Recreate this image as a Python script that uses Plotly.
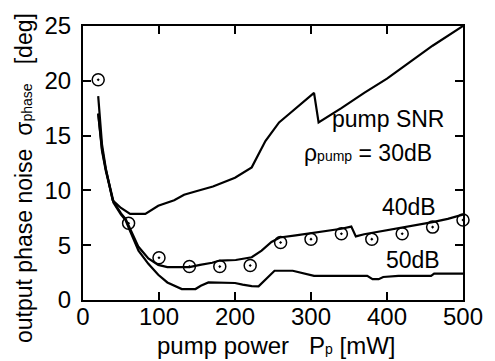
import plotly.graph_objects as go

# measured points (circle-dot markers)
pts_x = [20, 60, 100, 140, 180, 220, 260, 300, 340, 380, 420, 460, 500]
pts_y = [20.1, 7.0, 3.85, 3.05, 3.05, 3.15, 5.25, 5.55, 6.05, 5.55, 6.05, 6.65, 7.3]

# pump SNR 30 dB curve
x30 = [20, 22, 25, 30, 35, 39, 50, 62, 82, 90, 99, 120, 133, 150, 171, 200, 215, 222, 240, 258, 270, 282, 295, 304, 310, 340, 370, 400, 430, 460, 500]
y30 = [18.6, 16.8, 14.2, 12.0, 10.4, 9.1, 8.4, 7.85, 7.85, 8.2, 8.6, 9.1, 9.6, 9.95, 10.35, 11.15, 11.8, 12.1, 14.5, 16.2, 16.9, 17.6, 18.3, 18.9, 16.2, 17.5, 18.9, 20.2, 21.7, 23.2, 25.0]

# pump SNR 40 dB curve
x40 = [20, 22, 25, 30, 35, 40, 50, 56, 60, 73, 86, 99, 111, 140, 154, 170, 180, 201, 222, 235, 248, 259, 280, 300, 320, 340, 353, 359, 370, 400, 430, 460, 480, 497, 500]
y40 = [17.0, 15.6, 13.8, 11.9, 10.3, 9.0, 7.9, 7.4, 6.8, 4.85, 3.8, 3.2, 3.0, 3.0, 3.2, 3.4, 3.6, 3.65, 3.9, 4.5, 5.3, 5.7, 5.9, 6.1, 6.3, 6.5, 6.7, 5.8, 6.0, 6.35, 6.7, 7.1, 7.4, 7.8, 7.8]

# pump SNR 50 dB curve
x50 = [20, 22, 25, 30, 35, 40, 50, 56, 60, 73, 86, 99, 111, 125, 130, 148, 155, 165, 200, 210, 222, 231, 252, 276, 290, 304, 374, 381, 389, 395, 415, 458, 462, 500]
y50 = [17.0, 15.5, 13.6, 11.8, 10.2, 8.9, 7.8, 7.3, 6.6, 4.5, 3.3, 2.3, 1.6, 1.15, 1.0, 1.0, 1.3, 1.6, 1.55, 1.4, 1.27, 1.25, 2.67, 2.67, 2.4, 2.2, 2.2, 1.9, 1.9, 2.1, 2.2, 2.2, 2.4, 2.4]

x_ticks = [0, 100, 200, 300, 400, 500]
y_ticks = [0, 5, 10, 15, 20, 25]

FONT = "Liberation Sans, Arial, Helvetica, sans-serif"
NB = "\u00a0"

fig = go.Figure()
for xs, ys in [(x30, y30), (x40, y40), (x50, y50)]:
    fig.add_trace(go.Scatter(x=xs, y=ys, mode="lines",
                             line=dict(color="black", width=2.2),
                             showlegend=False, hoverinfo="skip"))
fig.add_trace(go.Scatter(x=pts_x, y=pts_y, mode="markers",
                         marker=dict(symbol="circle-open-dot", size=12, color="black",
                                     line=dict(width=1.5, color="black")),
                         showlegend=False, cliponaxis=False))

axis_common = dict(showgrid=False, zeroline=False, showline=True, linecolor="black",
                   linewidth=2, mirror="ticks", ticks="inside", ticklen=8, tickwidth=1.5,
                   tickcolor="black", tickfont=dict(family=FONT, size=24, color="black"))

fig.update_layout(
    width=495, height=361,
    margin=dict(l=83, r=22, t=25, b=61),
    paper_bgcolor="white", plot_bgcolor="white",
    font=dict(family=FONT, color="black"),
    xaxis=dict(range=[0, 500], tickvals=x_ticks, ticklabelstandoff=-6, **axis_common),
    yaxis=dict(range=[0, 25], tickvals=y_ticks, ticklabelstandoff=5, **axis_common),
)

small = "<span style='font-size:14px'>{}</span>"
anns = [
    dict(x=401, y=16.55, xref="x", yref="y", text="pump SNR", font=dict(size=23)),
    dict(x=375, y=13.45, xref="x", yref="y",
         text="\u03c1" + small.format("pump") + " = 30dB", font=dict(size=23)),
    dict(x=429, y=8.5, xref="x", yref="y", text="40dB", font=dict(size=23)),
    dict(x=434, y=3.65, xref="x", yref="y", text="50dB", font=dict(size=23)),
    dict(x=(282 - 83) / 390, y=(300 - 361) / 275, xref="paper", yref="paper",
         text="pump power" + NB + NB + NB + "P" + small.format("p") + " [mW]", font=dict(size=24),
         yanchor="bottom"),
    dict(x=(23 - 83) / 390, y=(300 - 178) / 275, xref="paper", yref="paper", textangle=-90,
         text="output phase noise" + NB + NB + "\u03c3" + small.format("phase") + NB + NB + NB + "[deg]",
         font=dict(size=23)),
]
for a in anns:
    a.setdefault("yanchor", "middle")
    a.update(showarrow=False, xanchor="center")
    a["font"].update(family=FONT, color="black")
    fig.add_annotation(**a)

fig.write_html("out.html")
